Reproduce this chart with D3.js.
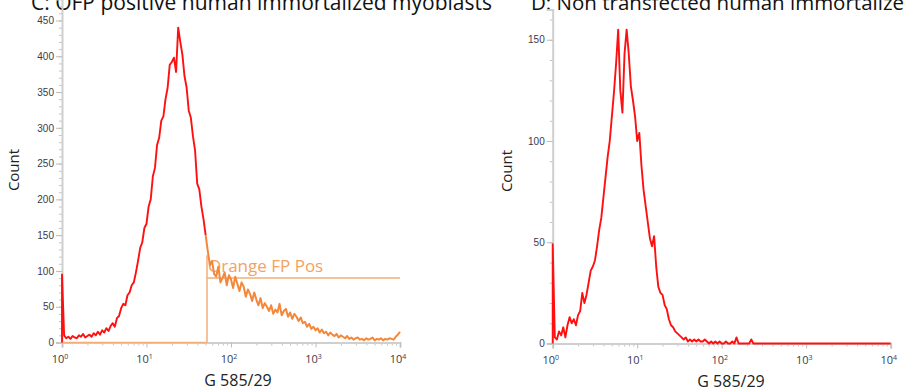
<!DOCTYPE html>
<html>
<head>
<meta charset="utf-8">
<script src="https://cdn.jsdelivr.net/npm/d3@7"></script>
<style>
  body { margin: 0; background: #fff; }
  svg { display: block; }
</style>
</head>
<body>
<div id="chart"></div>
<script>
// bins: 40 per decade, from 10^0 to 10^4 (161 points)
const binsPerDecade = 40;

const countsOFP = [
  95, 10, 6, 8, 5, 9, 7, 6, 10, 8, 12, 7, 9, 11, 8, 13,
  10, 15, 11, 17, 14, 20, 16, 23, 27, 22, 34, 37, 48, 54, 52, 66,
  70, 80, 84, 98, 114, 132, 140, 160, 166, 190, 200, 232, 244, 276, 286, 310,
  316, 340, 356, 388, 392, 398, 378, 440, 420, 402, 372, 356, 324, 314, 288, 268,
  222, 214, 190, 172, 150,
  128, 108, 114, 96, 92, 106, 84, 90, 98, 80, 94, 88, 76, 92, 82, 72,
  84, 78, 64, 74, 68, 58, 70, 60, 52, 62, 48, 55, 50, 44, 52, 40,
  46, 42, 54, 38, 44, 47, 36, 42, 33, 40, 36, 30, 35, 27, 29, 22,
  26, 19, 22, 17, 20, 14, 18, 13, 15, 10, 14, 11, 9, 12, 7, 10,
  8, 6, 9, 5, 7, 4, 6, 7, 4, 5, 3, 6, 4, 5, 7, 3,
  5, 4, 6, 3, 5, 4, 6, 5, 4, 8, 11, 15
];

const countsControl = [
  49, 3, 2, 6, 4, 8, 3, 9, 13, 10, 12, 9, 14, 16, 25, 20,
  24, 30, 36, 38, 41, 48, 56, 62, 72, 82, 92, 100, 112, 124, 138, 155,
  125, 114, 143, 155, 143, 127, 120, 112, 100, 104, 88, 76, 68, 60, 52, 48,
  53, 38, 28, 25, 24, 19, 17, 12, 9, 8, 6, 5, 4, 3, 2, 3,
  1, 2, 1, 2, 1, 2, 1, 1, 2, 1, 0, 1, 0, 1, 0, 1,
  0, 0, 1, 0, 0, 1, 0, 3, 0, 0, 0, 0, 0, 0, 2, 0,
  0, 0, 0, 0, 0, 0, 0, 0, 0, 0, 0, 0, 0, 0, 0, 0,
  0, 0, 0, 0, 0, 0, 0, 0, 0, 0, 0, 0, 0, 0, 0, 0,
  0, 0, 0, 0, 0, 0, 0, 0, 0, 0, 0, 0, 0, 0, 0, 0,
  0, 0, 0, 0, 0, 0, 0, 0, 0, 0, 0, 0, 0, 0, 0, 0,
  0
];

const yTicksOFP = [0, 50, 100, 150, 200, 250, 300, 350, 400, 450];
const yTicksControl = [0, 50, 100, 150];
const xDecades = [1, 10, 100, 1000, 10000];

const gateName = "Orange FP Pos";
const gateStart = 52;     // G 585/29 value where the gate begins
const gateLevel = 90;     // count level of the gate bar
const gateTop = 122;

const titleLeft = "C: OFP positive human immortalized myoblasts";
const titleRight = "D: Non transfected human immortalized myoblasts";

const width = 905, height = 392;

let svg = d3.select("#chart")
  .append("svg")
  .attr("width", width)
  .attr("height", height)
  .style("font-family", "'Open Sans', sans-serif");

// panel titles, cut by the top edge as in the source figure
svg.append("text")
  .attr("x", 31)
  .attr("y", 10)
  .style("font-size", "21px")
  .style("fill", "#111")
  .text(titleLeft);
svg.append("text")
  .attr("x", 531)
  .attr("y", 10)
  .style("font-size", "20.5px")
  .style("fill", "#111")
  .text(titleRight);

function makeHistogram(opts) {
  let g = svg.append("g");

  let xScale = d3.scaleLog()
    .domain([1, 10000])
    .range([opts.left, opts.right]);
  let yScale = d3.scaleLinear()
    .domain([0, opts.yMax])
    .range([opts.bottom, opts.top]);

  // minor y ticks (every 10)
  let yMinor = d3.axisLeft(yScale)
    .tickValues(d3.range(0, opts.yMax + 1, 10))
    .tickSize(3)
    .tickFormat("");
  g.append("g")
    .attr("transform", `translate(${opts.left},0)`)
    .call(yMinor)
    .call(a => a.select(".domain").remove())
    .selectAll("line").attr("stroke", "#c4c4c4");

  // major y ticks
  let yAxis = d3.axisLeft(yScale)
    .tickValues(opts.yTicks)
    .tickSize(6)
    .tickPadding(2);
  let yAxisGroup = g.append("g")
    .attr("transform", `translate(${opts.left},0)`)
    .call(yAxis);
  yAxisGroup.select(".domain")
    .attr("stroke", "#cfcfcf")
    .attr("stroke-width", 2);
  yAxisGroup.selectAll("line").attr("stroke", "#bdbdbd");
  yAxisGroup.selectAll("text")
    .style("font-size", "10px")
    .style("fill", "#3a3a4c");

  // minor x ticks
  let minorX = [];
  xDecades.slice(0, -1).forEach(d => {
    for (let k = 2; k <= 9; k++) minorX.push(d * k);
  });
  let xMinor = d3.axisBottom(xScale)
    .tickValues(minorX)
    .tickSize(3)
    .tickFormat("");
  g.append("g")
    .attr("transform", `translate(0,${opts.bottom})`)
    .call(xMinor)
    .call(a => a.select(".domain").remove())
    .selectAll("line").attr("stroke", "#c4c4c4");

  // major x ticks
  let xAxis = d3.axisBottom(xScale)
    .tickValues(xDecades)
    .tickSize(5)
    .tickFormat("");
  let xAxisGroup = g.append("g")
    .attr("transform", `translate(0,${opts.bottom})`)
    .call(xAxis);
  xAxisGroup.select(".domain")
    .attr("stroke", "#cfcfcf")
    .attr("stroke-width", 2);
  xAxisGroup.selectAll("line").attr("stroke", "#bdbdbd");

  // decade labels 10^n with superscripts
  let lab = g.selectAll(".xlab")
    .data(xDecades)
    .enter().append("text")
    .attr("class", "xlab")
    .attr("x", d => xScale(d) - 2)
    .attr("y", opts.bottom + 20)
    .attr("text-anchor", "middle")
    .style("font-size", "11px")
    .style("fill", "#3a3a4c");
  lab.append("tspan").text("10");
  lab.append("tspan")
    .attr("dy", -4)
    .style("font-size", "7px")
    .text(d => Math.round(Math.log10(d)));

  // axis titles
  g.append("text")
    .attr("transform", `translate(${opts.countX},${opts.countY}) rotate(-90)`)
    .attr("text-anchor", "middle")
    .style("font-size", "15px")
    .style("fill", "#222")
    .text("Count");
  g.append("text")
    .attr("x", opts.labelX)
    .attr("y", opts.labelY)
    .attr("text-anchor", "middle")
    .style("font-size", "16px")
    .style("fill", "#222")
    .text("G 585/29");

  let pts = opts.counts.map((c, i) => ({x: Math.pow(10, i / binsPerDecade), c: c}));
  pts.unshift({x: 1, c: 0});

  let line = d3.line()
    .x(d => xScale(d.x))
    .y(d => yScale(d.c));

  if (opts.gate) {
    let gx = xScale(gateStart);
    // gate outline
    g.append("line")
      .attr("x1", xScale(1)).attr("x2", gx)
      .attr("y1", yScale(0)).attr("y2", yScale(0))
      .attr("stroke", "#f4ae78").attr("stroke-width", 1.5);
    g.append("line")
      .attr("x1", gx).attr("x2", gx)
      .attr("y1", yScale(0)).attr("y2", yScale(gateTop))
      .attr("stroke", "#f4ae78").attr("stroke-width", 1.5);
    g.append("line")
      .attr("x1", gx).attr("x2", xScale(10000))
      .attr("y1", yScale(gateLevel)).attr("y2", yScale(gateLevel))
      .attr("stroke", "#f4ae78").attr("stroke-width", 1.5);

    let inside = pts.filter(d => d.x < gateStart);
    let outside = pts.filter(d => d.x >= gateStart);
    outside.unshift(inside[inside.length - 1]);

    g.append("path")
      .datum(inside)
      .attr("d", line)
      .attr("fill", "none")
      .attr("stroke", "#ff1010")
      .attr("stroke-width", 1.9)
      .attr("stroke-linejoin", "round");

    g.append("text")
      .attr("x", gx + 1)
      .attr("y", yScale(gateLevel) - 6)
      .style("font-size", "17px")
      .style("fill", "#f3a262")
      .text(gateName);

    g.append("path")
      .datum(outside)
      .attr("d", line)
      .attr("fill", "none")
      .attr("stroke", "#f5873a")
      .attr("stroke-width", 2)
      .attr("stroke-linejoin", "round");
  } else {
    g.append("path")
      .datum(pts)
      .attr("d", line)
      .attr("fill", "none")
      .attr("stroke", "#ff1010")
      .attr("stroke-width", 1.9)
      .attr("stroke-linejoin", "round");
  }
}

makeHistogram({
  counts: countsOFP, yTicks: yTicksOFP, yMax: 480,
  left: 62, right: 400, bottom: 342.5, top: 342.5 - 480 * 0.7156,
  countX: 19, countY: 170, labelX: 238, labelY: 386,
  gate: true
});

makeHistogram({
  counts: countsControl, yTicks: yTicksControl, yMax: 165,
  left: 552.7, right: 890.7, bottom: 343.5, top: 343.5 - 165 * 2.025,
  countX: 512, countY: 171, labelX: 731, labelY: 387,
  gate: false
});
</script>
</body>
</html>
